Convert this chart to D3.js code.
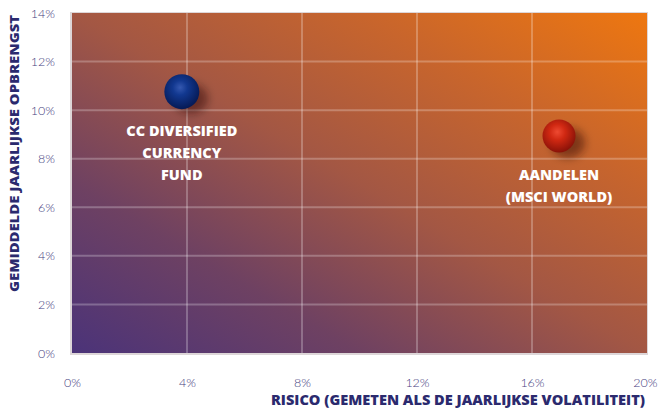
<!DOCTYPE html>
<html><head><meta charset="utf-8">
<script src="https://cdn.jsdelivr.net/npm/d3@7"></script>
<style>body{margin:0;background:#fff;} svg{display:block;}</style>
</head><body>
<script>
const xTicks = [0, 4, 8, 12, 16, 20];
const yTicks = [0, 2, 4, 6, 8, 10, 12, 14];
const names = ["CC DIVERSIFIED|CURRENCY|FUND", "AANDELEN|(MSCI WORLD)"];
const risk = [3.82, 16.94];
const ret = [10.76, 8.94];
const kinds = ["blue", "red"];
const xTitle = "RISICO (GEMETEN ALS DE JAARLIJKSE VOLATILITEIT)";
const yTitle = "GEMIDDELDE JAARLIJKSE OPBRENGST";

const W = 658, H = 412;
const m = {l: 72, r: 11, t: 13, b: 59};
const svg = d3.select("body").append("svg").attr("width", W).attr("height", H);
const x = d3.scaleLinear().domain([0, 20]).range([m.l, W - m.r]);
const y = d3.scaleLinear().domain([0, 14]).range([H - m.b, m.t]);

const defs = svg.append("defs");
const bg = defs.append("linearGradient").attr("id", "bg")
  .attr("x1", 0).attr("y1", 1).attr("x2", 1).attr("y2", 0);
bg.append("stop").attr("offset", "0%").attr("stop-color", "#4b3379");
bg.append("stop").attr("offset", "25%").attr("stop-color", "#6e4162");
bg.append("stop").attr("offset", "50%").attr("stop-color", "#a35744");
bg.append("stop").attr("offset", "75%").attr("stop-color", "#c8652c");
bg.append("stop").attr("offset", "100%").attr("stop-color", "#ee7710");

const gb = defs.append("radialGradient").attr("id", "ball-blue").attr("cx", "45%").attr("cy", "40%").attr("r", "60%").attr("fx", "45%").attr("fy", "38%");
gb.append("stop").attr("offset", "0%").attr("stop-color", "#3558b0");
gb.append("stop").attr("offset", "35%").attr("stop-color", "#123890");
gb.append("stop").attr("offset", "100%").attr("stop-color", "#061a55");
const gr = defs.append("radialGradient").attr("id", "ball-red").attr("cx", "45%").attr("cy", "40%").attr("r", "60%").attr("fx", "45%").attr("fy", "38%");
gr.append("stop").attr("offset", "0%").attr("stop-color", "#ee4a32");
gr.append("stop").attr("offset", "40%").attr("stop-color", "#d02812");
gr.append("stop").attr("offset", "100%").attr("stop-color", "#8a1208");
const sh = defs.append("filter").attr("id", "shadow").attr("x", "-50%").attr("y", "-50%").attr("width", "200%").attr("height", "200%");
sh.append("feGaussianBlur").attr("stdDeviation", 4);

// plot background with subtle border
svg.append("rect").attr("x", x(0) - 2).attr("y", y(14) - 1).attr("width", x(20) - x(0) + 3).attr("height", y(0) - y(14) + 3)
  .attr("fill", "#ddd6d8");
svg.append("rect").attr("x", x(0)).attr("y", y(14)).attr("width", x(20) - x(0)).attr("height", y(0) - y(14))
  .attr("fill", "url(#bg)");

// grid
svg.append("g").selectAll("line").data(xTicks.filter(d => d > 0 && d < 20)).join("line")
  .attr("x1", d => x(d)).attr("x2", d => x(d)).attr("y1", y(14)).attr("y2", y(0))
  .attr("stroke", "rgba(255,255,255,0.25)").attr("stroke-width", 2);
svg.append("g").selectAll("line").data(yTicks.filter(d => d > 0 && d < 14)).join("line")
  .attr("x1", x(0)).attr("x2", x(20)).attr("y1", d => y(d)).attr("y2", d => y(d))
  .attr("stroke", "rgba(255,255,255,0.25)").attr("stroke-width", 2);

// axes
const font = "Lato, 'Open Sans', sans-serif";
const xAxis = svg.append("g").attr("transform", `translate(0,${y(0) + 22})`)
  .call(d3.axisBottom(x).tickValues(xTicks).tickFormat(d => d + "%").tickSize(0));
const yAxis = svg.append("g").attr("transform", `translate(${x(0) - 14},0)`)
  .call(d3.axisLeft(y).tickValues(yTicks).tickFormat(d => d + "%").tickSize(0));
[xAxis, yAxis].forEach(a => {
  a.select(".domain").remove();
  a.selectAll("text").attr("fill", "#463e80").style("font-family", font).style("font-size", "12.5px").style("font-weight", 300);
});
xAxis.selectAll(".tick").filter(d => d === 20).select("text")
  .attr("text-anchor", "end").attr("x", W - 1 - x(20));

svg.append("text").attr("x", x(20) - 2).attr("y", 405).attr("text-anchor", "end")
  .style("font-family", "'Open Sans', sans-serif").style("font-weight", 800).style("font-size", "13.5px")
  .attr("fill", "#2b2a6e").attr("textLength", 374).attr("lengthAdjust", "spacingAndGlyphs").text(xTitle);
svg.append("text").attr("transform", `translate(19,${y(14) + 2}) rotate(-90)`).attr("text-anchor", "end")
  .style("font-family", "'Open Sans', sans-serif").style("font-weight", 800).style("font-size", "13px")
  .attr("fill", "#2b2a6e").attr("textLength", 277).attr("lengthAdjust", "spacingAndGlyphs").text(yTitle);

// points
const pts = names.map((n, i) => ({n, x: risk[i], y: ret[i], k: kinds[i]}));
const g = svg.append("g");
g.selectAll("ellipse").data(pts).join("ellipse")
  .attr("cx", d => x(d.x) + 9).attr("cy", d => y(d.y) + 7).attr("rx", 17).attr("ry", 15)
  .attr("fill", "rgba(40,10,10,0.45)").attr("filter", "url(#shadow)");
g.selectAll("circle").data(pts).join("circle")
  .attr("cx", d => x(d.x)).attr("cy", d => y(d.y)).attr("r", d => d.k === "blue" ? 17.5 : 16.5)
  .attr("fill", d => `url(#ball-${d.k})`);

pts.forEach(d => {
  const lines = d.n.split("|");
  const t = svg.append("text").attr("text-anchor", "middle")
    .style("font-family", "'Open Sans', sans-serif").style("font-weight", 800).style("font-size", "14.5px")
    .attr("fill", "#ffffff");
  lines.forEach((l, j) => {
    t.append("tspan").attr("x", x(d.x)).attr("y", y(d.y) + 44 + j * 22).text(l);
  });
});
</script>
</body></html>
